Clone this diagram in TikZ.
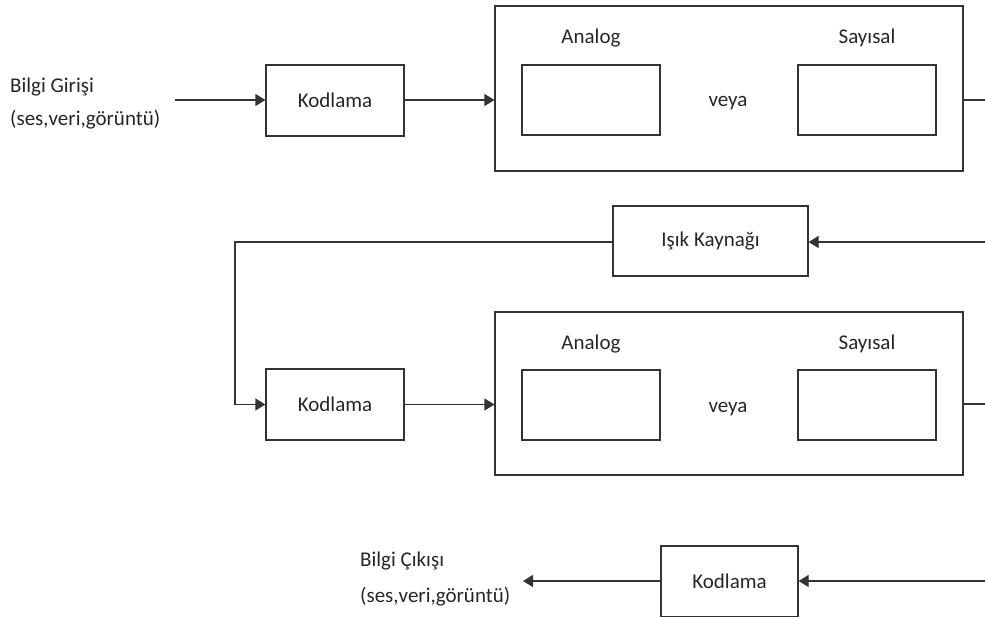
\documentclass[tikz,border=0pt]{standalone}
\usepackage{fontspec}
\setmainfont{Carlito}
\usetikzlibrary{arrows.meta}
\tikzset{
  ln/.style={draw=black!80, line width=1.2pt},
  arr/.style={ln, -{Triangle[length=10pt,width=12pt]}},
  box/.style={ln, rectangle, inner sep=0pt, minimum width=#1},
  txt/.style={font=\fontsize{21}{25}\selectfont, text=black!85, inner sep=0pt},
}
\begin{document}
\begin{tikzpicture}[x=1pt,y=-1pt]
\useasboundingbox (0,0) rectangle (985,616);
% row 1
\node[txt, anchor=base west] (in1) at (10,92) {Bilgi Girişi};
\node[txt, anchor=base west] (in2) at (10,125) {(ses,veri,görüntü)};
\coordinate (inS) at (175,100);
\node[box=138pt, minimum height=71pt, txt] (kod1) at (335,100.5) {Kodlama};
\node[box=468pt, minimum height=165pt] (big1) at (729,88.5) {};
\node[box=138pt, minimum height=70pt] (an1) at (591,100) {};
\node[box=138pt, minimum height=70pt] (say1) at (867,100) {};
\node[txt, anchor=base] (anl1) at (591,43) {Analog};
\node[txt, anchor=base] (sayl1) at (867,43) {Sayısal};
\node[txt, anchor=base] (veya1) at (728,106) {veya};
\coordinate (r1) at (985,100);
\draw[arr] (inS) -- (kod1.west |- inS);
\draw[arr] (kod1.east |- inS) -- (big1.west |- inS);
\draw[ln] (big1.east |- r1) -- (r1);
% light source
\node[box=195pt, minimum height=70pt, txt] (isik) at (710.5,241) {Işık Kaynağı};
\coordinate (r2) at (985,242);
\coordinate (lc) at (235,242);
\draw[arr] (r2) -- (isik.east |- r2);
% row 2
\node[box=138pt, minimum height=71pt, txt] (kod2) at (335,404.5) {Kodlama};
\node[box=468pt, minimum height=163pt] (big2) at (729,393.5) {};
\node[box=138pt, minimum height=70pt] (an2) at (591,405) {};
\node[box=138pt, minimum height=70pt] (say2) at (867,405) {};
\node[txt, anchor=base] (anl2) at (591,349) {Analog};
\node[txt, anchor=base] (sayl2) at (867,349) {Sayısal};
\node[txt, anchor=base] (veya2) at (728,412) {veya};
\coordinate (r3) at (985,404);
\draw[arr] (isik.west |- lc) -- (lc) -- (lc |- kod2.west) -- (kod2.west);
\draw[arr] (kod2.east) -- (big2.west |- kod2.east);
\draw[ln] (big2.east |- r3) -- (r3);
% row 3
\node[box=137pt, minimum height=71pt, txt] (kod3) at (729.5,581.5) {Kodlama};
\coordinate (r4) at (985,581);
\coordinate (outE) at (523,581);
\draw[arr] (r4) -- (kod3.east |- r4);
\draw[arr] (kod3.west |- r4) -- (outE);
\node[txt, anchor=base west] (out1) at (360,566) {Bilgi Çıkışı};
\node[txt, anchor=base west] (out2) at (360,602) {(ses,veri,görüntü)};
\end{tikzpicture}
\end{document}
